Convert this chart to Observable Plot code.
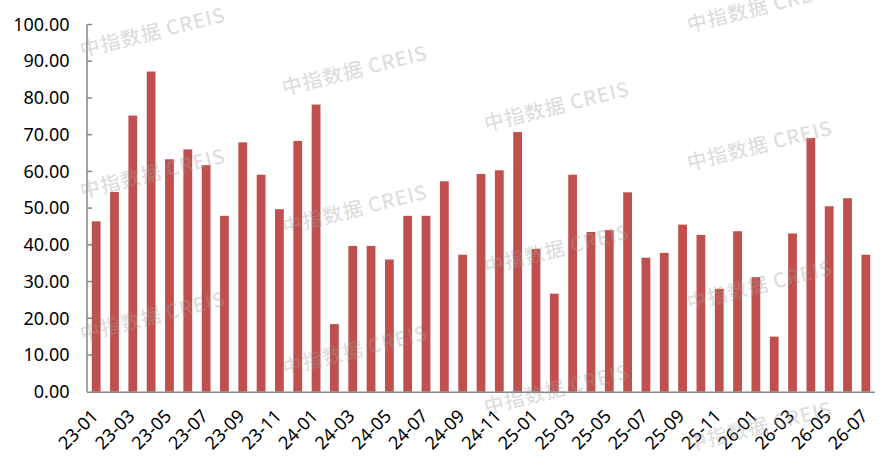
<!DOCTYPE html>
<html>
<head>
<meta charset="utf-8">
<script src="https://cdn.jsdelivr.net/npm/d3@7"></script>
<script src="https://cdn.jsdelivr.net/npm/@observablehq/plot@0.6"></script>
<style>
  html, body { margin: 0; padding: 0; background: #fff; }
</style>
</head>
<body>
<div id="chart"></div>
<script>
const months = [
  "23-01","23-02","23-03","23-04","23-05","23-06","23-07","23-08","23-09","23-10","23-11","23-12",
  "24-01","24-02","24-03","24-04","24-05","24-06","24-07","24-08","24-09","24-10","24-11","24-12",
  "25-01","25-02","25-03","25-04","25-05","25-06","25-07","25-08","25-09","25-10","25-11","25-12",
  "26-01","26-02","26-03","26-04","26-05","26-06","26-07"
];
const values = [
  46.4, 54.4, 75.2, 87.2, 63.3, 66.0, 61.7, 47.9, 67.9, 59.1, 49.7, 68.3,
  78.2, 18.4, 39.7, 39.7, 36.0, 47.9, 47.9, 57.3, 37.3, 59.3, 60.3, 70.7,
  38.9, 26.7, 59.1, 43.5, 44.0, 54.3, 36.5, 37.8, 45.5, 42.7, 28.0, 43.7,
  31.2, 15.0, 43.1, 69.1, 50.5, 52.7, 37.3
];
const yTicks = [0, 10, 20, 30, 40, 50, 60, 70, 80, 90, 100];
const xTickLabels = [
  "23-01","23-03","23-05","23-07","23-09","23-11",
  "24-01","24-03","24-05","24-07","24-09","24-11",
  "25-01","25-03","25-05","25-07","25-09","25-11",
  "26-01","26-03","26-05","26-07"
];
const watermarkText = "中指数据 CREIS";
const watermarkSpots = [
  [153, 34], [153, 175], [153, 318],
  [355, 72], [355, 211], [355, 352],
  [557, 108], [557, 251], [557, 391],
  [760, 9], [760, 147], [760, 287], [760, 428]
];

const data = months.map((m, i) => ({month: m, value: values[i]}));
const font = "'Noto Sans', 'DejaVu Sans', sans-serif";
const axisGray = "#868686";

const plot = Plot.plot({
  width: 891,
  height: 469,
  marginLeft: 87,
  marginRight: 16,
  marginTop: 24.5,
  marginBottom: 77.3,
  style: {fontFamily: font, fontSize: "18px", color: "#000", background: "#fff"},
  x: {domain: months, paddingInner: 0.52, paddingOuter: 0.26, round: false, label: null},
  y: {domain: [0, 100], label: null},
  marks: [
    Plot.barY(data, {x: "month", y: "value", fill: "#C0504D"}),
    Plot.axisY(yTicks, {tickSize: 0, tickPadding: 18, tickFormat: d => d.toFixed(2), fontSize: 18, fill: "#000", label: null}),
    Plot.axisX(xTickLabels, {tickSize: 0, tickPadding: 21, dx: -1.5, tickRotate: -45, fontSize: 18, fill: "#000", label: null}),
    Plot.ruleY([0], {stroke: axisGray, strokeWidth: 1.5})
  ]
});

const svg = d3.select(plot);
const yScale = plot.scale("y");
const xScale = plot.scale("x");
const x0 = xScale.range[0];
const axisG = svg.append("g").attr("stroke", axisGray).attr("stroke-width", 1.5);
axisG.append("line")
  .attr("x1", x0).attr("x2", x0)
  .attr("y1", yScale.apply(100)).attr("y2", yScale.apply(0));
axisG.selectAll("line.tick").data(yTicks.slice(1)).join("line")
  .attr("class", "tick")
  .attr("x1", x0).attr("x2", x0 + 5)
  .attr("y1", d => yScale.apply(d)).attr("y2", d => yScale.apply(d));

const wm = svg.append("g").attr("pointer-events", "none");
wm.selectAll("text").data(watermarkSpots).join("text")
  .attr("transform", d => `translate(${d[0]},${d[1]}) rotate(-14)`)
  .attr("text-anchor", "middle")
  .attr("dominant-baseline", "middle")
  .attr("font-family", "'Noto Sans CJK SC', 'Noto Sans', sans-serif")
  .attr("font-weight", 500)
  .attr("font-size", 20)
  .attr("letter-spacing", 0.8)
  .attr("fill", "#a0a0a0")
  .attr("fill-opacity", 0.36)
  .text(watermarkText);

document.getElementById("chart").appendChild(plot);
</script>
</body>
</html>
